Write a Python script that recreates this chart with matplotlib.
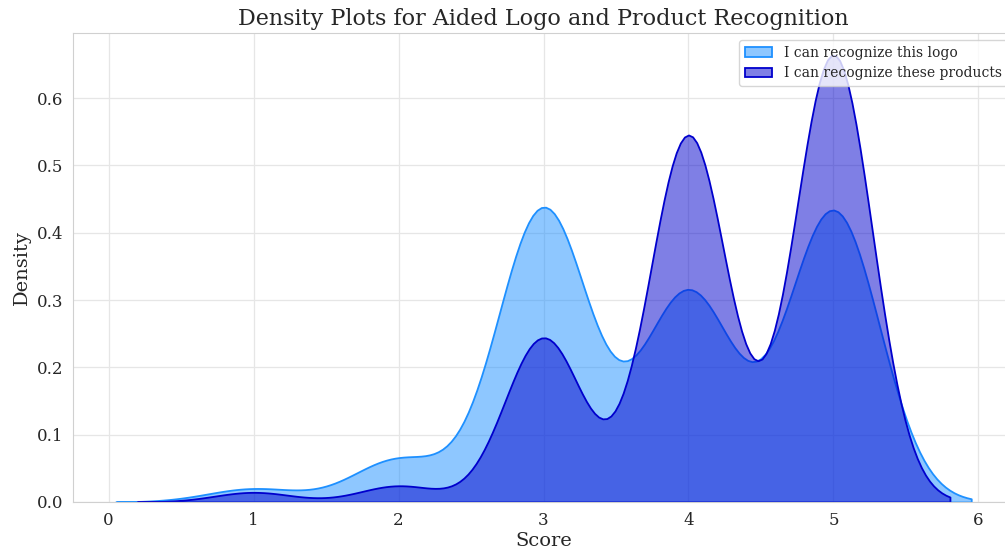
import numpy as np
import matplotlib
matplotlib.use("Agg")
import matplotlib.pyplot as plt
import seaborn as sns

scores = [1, 2, 3, 4, 5]
logo_counts = [5, 16, 111, 79, 110]
product_counts = [3, 5, 51, 114, 139]
labels = ["I can recognize this logo", "I can recognize these products"]

logo = np.repeat(scores, logo_counts)
products = np.repeat(scores, product_counts)

sns.set_style("whitegrid", {"grid.color": "#e6e6e6", "axes.edgecolor": "#d0d0d0"})
plt.rcParams['font.family'] = ['DejaVu Serif']

fig = plt.figure(figsize=(10.05, 5.52), dpi=100)
ax = fig.add_axes([73/1005, 50/552, 941/1005, 469/552])

sns.kdeplot(logo, fill=True, color="dodgerblue", alpha=0.5, linewidth=1.3, label=labels[0], ax=ax)
sns.kdeplot(products, fill=True, color="mediumblue", alpha=0.5, linewidth=1.3, label=labels[1], ax=ax)

ax.grid(True, linewidth=0.9)
ax.set_title("Density Plots for Aided Logo and Product Recognition", fontsize=16)
ax.set_xlabel("Score", fontsize=14, labelpad=2)
ax.set_ylabel("Density", fontsize=14)
ax.tick_params(labelsize=12)
ax.legend(loc="upper right", fontsize=10)
fig.savefig("out.png", dpi=100)
